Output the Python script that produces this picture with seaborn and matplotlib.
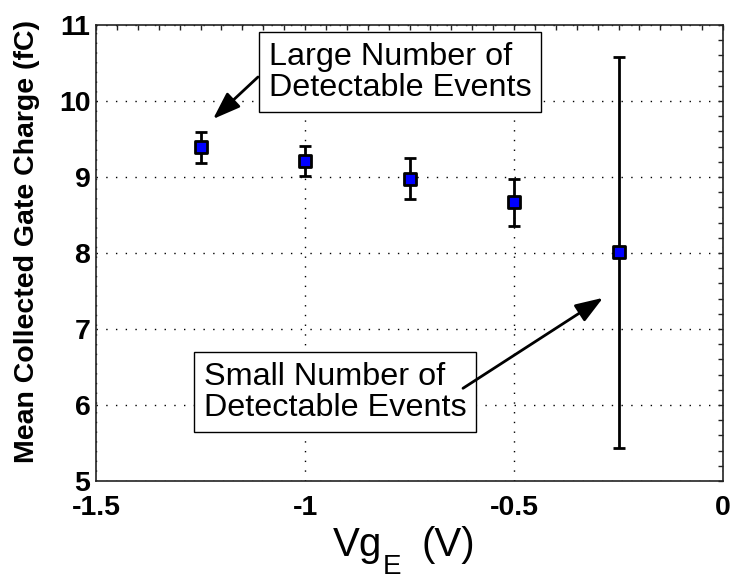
import matplotlib
matplotlib.use("Agg")
import matplotlib.pyplot as plt
from matplotlib.ticker import MultipleLocator
import seaborn as sns
import pandas as pd

# ---- data ----
vg = [-1.25, -1.0, -0.75, -0.5, -0.25]
charge = [9.39, 9.21, 8.98, 8.665, 8.01]
charge_err = [0.20, 0.20, 0.27, 0.315, 2.57]
x_ticks = [-1.5, -1.0, -0.5, 0.0]
x_tick_labels = ["-1.5", "-1", "-0.5", "0"]
y_ticks = [5, 6, 7, 8, 9, 10, 11]
note_large = "Large Number of\nDetectable Events"
note_small = "Small Number of\nDetectable Events"

sns.set_style("white")
plt.rcParams["font.family"] = ["Liberation Sans", "DejaVu Sans"]
plt.rcParams["text.color"] = "black"
plt.rcParams["axes.labelcolor"] = "black"
plt.rcParams["xtick.color"] = "black"
plt.rcParams["ytick.color"] = "black"

df = pd.DataFrame({"vg": vg, "charge": charge, "err": charge_err})

W, H = 733, 581
fig = plt.figure(figsize=(W / 100, H / 100), dpi=100)
ax = fig.add_axes([96 / W, 1 - 481 / H, 627 / W, 456 / H])

ax.errorbar(df["vg"], df["charge"], yerr=df["err"], fmt="none", ecolor="black",
            elinewidth=2, capsize=4, capthick=2, zorder=3)
sns.scatterplot(data=df, x="vg", y="charge", marker="s", s=85, color="#0000FF",
                edgecolor="black", linewidth=2.0, ax=ax, zorder=4, legend=False)

ax.set_xlim(-1.5, 0)
ax.set_ylim(5, 11)
ax.set_xticks(x_ticks)
ax.set_xticklabels(x_tick_labels)
ax.set_yticks(y_ticks)
ax.xaxis.set_minor_locator(MultipleLocator(0.05))
ax.yaxis.set_minor_locator(MultipleLocator(0.2))

ax.grid(True, which="major", color="black", linestyle=(0, (1, 6)), linewidth=1.0)
ax.set_axisbelow(True)

ax.tick_params(which="both", direction="in", top=True, right=True, length=3.5,
               width=1, color="#222222")
ax.tick_params(axis="x", which="major", pad=10)
ax.tick_params(axis="y", which="major", pad=4)
for lab in ax.get_xticklabels() + ax.get_yticklabels():
    lab.set_fontsize(20.5)
    lab.set_fontweight("bold")
    lab.set_color("black")

for sp in ax.spines.values():
    sp.set_linewidth(1.2)
    sp.set_color("#222222")

# x label built from pieces so the subscript matches the reference size
ax.set_xlabel("")
fig.text(333 / W, 1 - 556 / H, "Vg", fontsize=29, ha="left", va="baseline")
fig.text(383 / W, 1 - 574 / H, "E", fontsize=20, ha="left", va="baseline")
fig.text(422 / W, 1 - 556 / H, "(V)", fontsize=29, ha="left", va="baseline")

ax.set_ylabel("Mean Collected Gate Charge (fC)", fontsize=20.5, fontweight="bold")
ax.yaxis.set_label_coords(-0.09, 0.525)

box = dict(boxstyle="square,pad=0.3", facecolor="white", edgecolor="black", linewidth=1.0)
ax.text(-1.086, 10.38, note_large, fontsize=23.3, ha="left", va="center",
        linespacing=1.05, bbox=box, zorder=5)
ax.text(-1.242, 6.17, note_small, fontsize=23.3, ha="left", va="center",
        linespacing=1.05, bbox=box, zorder=5)

arrow = dict(arrowstyle="-|>,head_length=0.7,head_width=0.25", color="black", lw=2,
             mutation_scale=24, shrinkA=0, shrinkB=0)
ax.annotate("", xy=(-1.22, 9.763), xytext=(-1.1124, 10.316), arrowprops=arrow, zorder=6)
ax.annotate("", xy=(-0.287, 7.41), xytext=(-0.622, 6.22), arrowprops=arrow, zorder=6)

fig.savefig("out.png", dpi=100)
